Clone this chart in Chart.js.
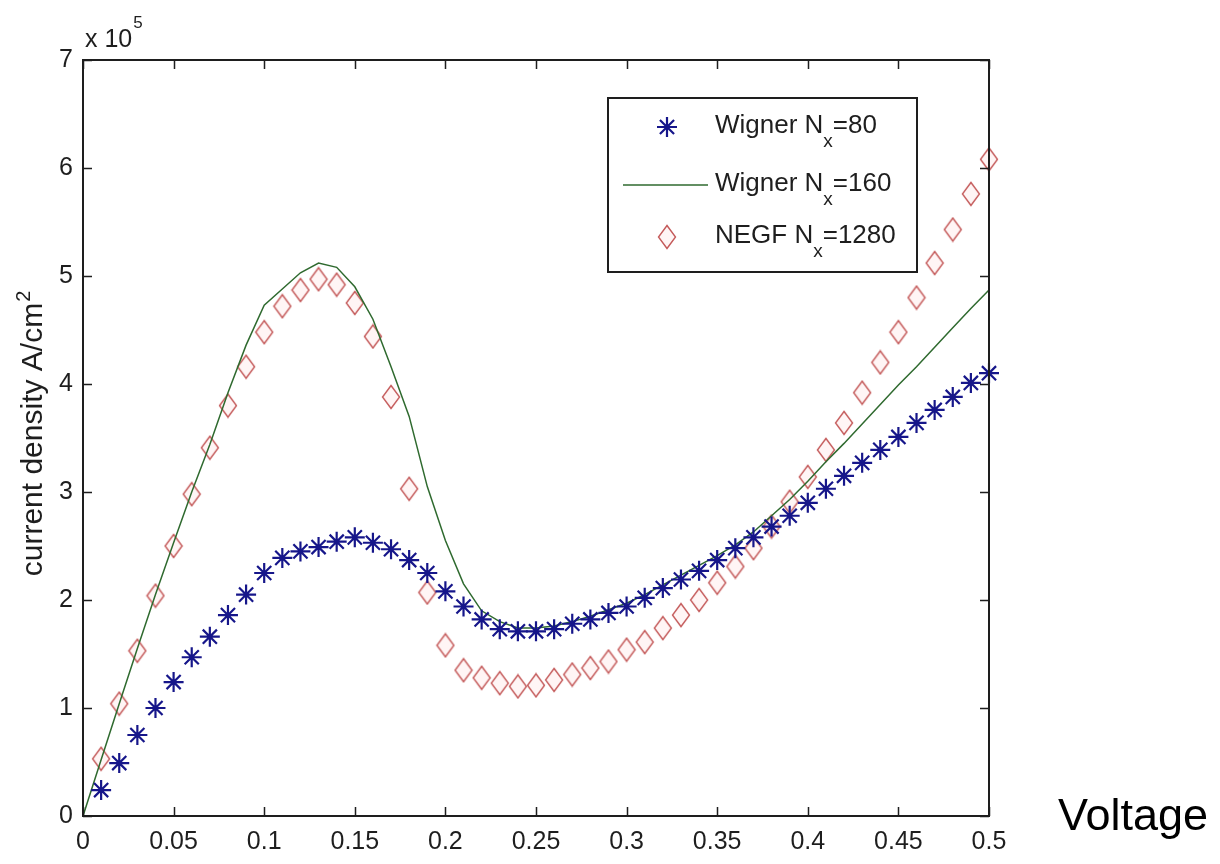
<!DOCTYPE html>
<html lang="en">
<head>
    <meta charset="UTF-8">
    <title>current density vs voltage</title>
    <script src="https://cdn.jsdelivr.net/npm/chart.js"></script>
    <style>
        body { margin: 0; background: #fff; }
        #wrap { width: 1220px; height: 864px; }
    </style>
</head>
<body>
<div id="wrap"><canvas id="ivChart" width="1220" height="864"></canvas></div>

<script>
    // values in units of 1e5 A/cm^2
    const voltage = [0.01, 0.02, 0.03, 0.04, 0.05, 0.06, 0.07, 0.08, 0.09, 0.10,
                     0.11, 0.12, 0.13, 0.14, 0.15, 0.16, 0.17, 0.18, 0.19, 0.20,
                     0.21, 0.22, 0.23, 0.24, 0.25, 0.26, 0.27, 0.28, 0.29, 0.30,
                     0.31, 0.32, 0.33, 0.34, 0.35, 0.36, 0.37, 0.38, 0.39, 0.40,
                     0.41, 0.42, 0.43, 0.44, 0.45, 0.46, 0.47, 0.48, 0.49, 0.50];
    const wigner80 = [0.24, 0.49, 0.75, 1.00, 1.24, 1.47, 1.66, 1.86, 2.05, 2.25,
                      2.39, 2.45, 2.49, 2.54, 2.58, 2.53, 2.47, 2.37, 2.25, 2.08,
                      1.94, 1.82, 1.73, 1.71, 1.71, 1.73, 1.78, 1.82, 1.88, 1.94,
                      2.02, 2.11, 2.19, 2.27, 2.37, 2.48, 2.58, 2.68, 2.78, 2.90,
                      3.03, 3.15, 3.27, 3.39, 3.51, 3.64, 3.76, 3.88, 4.01, 4.10];
    const negf1280 = [0.53, 1.04, 1.53, 2.04, 2.50, 2.98, 3.41, 3.80, 4.16, 4.48,
                      4.72, 4.87, 4.97, 4.92, 4.75, 4.44, 3.88, 3.03, 2.07, 1.58,
                      1.35, 1.28, 1.23, 1.20, 1.21, 1.26, 1.31, 1.37, 1.43, 1.54,
                      1.61, 1.74, 1.86, 2.00, 2.16, 2.31, 2.48, 2.68, 2.91, 3.14,
                      3.39, 3.64, 3.92, 4.20, 4.48, 4.80, 5.12, 5.43, 5.76, 6.08];
    const voltageFine = [0, 0.01, 0.02, 0.03, 0.04, 0.05, 0.06, 0.07, 0.08, 0.09, 0.10,
                         0.11, 0.12, 0.13, 0.14, 0.15, 0.16, 0.17, 0.18, 0.19, 0.20,
                         0.21, 0.22, 0.23, 0.24, 0.25, 0.26, 0.27, 0.28, 0.29, 0.30,
                         0.31, 0.32, 0.33, 0.34, 0.35, 0.36, 0.37, 0.38, 0.39, 0.40,
                         0.41, 0.42, 0.43, 0.44, 0.45, 0.46, 0.47, 0.48, 0.49, 0.50];
    const wigner160 = [0, 0.52, 1.04, 1.55, 2.05, 2.53, 3.00, 3.44, 3.92, 4.36, 4.73,
                       4.88, 5.03, 5.12, 5.08, 4.90, 4.60, 4.16, 3.70, 3.05, 2.55,
                       2.15, 1.90, 1.80, 1.74, 1.74, 1.76, 1.80, 1.85, 1.91, 1.97,
                       2.05, 2.14, 2.23, 2.32, 2.41, 2.51, 2.63, 2.78, 2.93, 3.10,
                       3.28, 3.45, 3.63, 3.81, 3.99, 4.16, 4.34, 4.52, 4.70, 4.87];

    const seriesLabels = ['Wigner N_x=80', 'Wigner N_x=160', 'NEGF N_x=1280'];
    const xTickValues = [0, 0.05, 0.1, 0.15, 0.2, 0.25, 0.3, 0.35, 0.4, 0.45, 0.5];
    const xTickLabels = ['0', '0.05', '0.1', '0.15', '0.2', '0.25', '0.3', '0.35', '0.4', '0.45', '0.5'];
    const yTickValues = [0, 1, 2, 3, 4, 5, 6, 7];
    const yTickLabels = ['0', '1', '2', '3', '4', '5', '6', '7'];

    const FONT = 'Liberation Sans, Arial, sans-serif';
    const INK = '#1e1e1e';
    const STAR_COLOR = '#16168a';
    const LINE_COLOR = '#2f6a2f';
    const DIAMOND_COLOR = '#c45a5a';

    // tall open diamond like the matlab marker
    function makeDiamond() {
        const c = document.createElement('canvas');
        c.width = 20; c.height = 26;
        const g = c.getContext('2d');
        g.strokeStyle = DIAMOND_COLOR;
        g.lineWidth = 1.4;
        g.fillStyle = 'rgba(255,225,225,0.35)';
        g.beginPath();
        g.moveTo(10, 1.5); g.lineTo(18.5, 13); g.lineTo(10, 24.5); g.lineTo(1.5, 13);
        g.closePath();
        g.fill();
        g.stroke();
        return c;
    }
    const diamond = makeDiamond();

    const toXY = (xs, ys) => xs.map((x, i) => ({ x: x, y: ys[i] }));

    // box, inward ticks, legend and extra texts
    const decorations = {
        id: 'decorations',
        beforeDraw(chart) {
            const ctx = chart.ctx;
            ctx.save();
            ctx.fillStyle = '#fff';
            ctx.fillRect(0, 0, chart.width, chart.height);
            ctx.restore();
        },
        afterDatasetsDraw(chart) {
            const ctx = chart.ctx;
            const a = chart.chartArea;
            const xs = chart.scales.x, ys = chart.scales.y;
            ctx.save();
            ctx.strokeStyle = INK;
            ctx.lineWidth = 2;
            ctx.strokeRect(a.left, a.top, a.right - a.left, a.bottom - a.top);
            ctx.lineWidth = 1.5;
            const tl = 9;
            ctx.beginPath();
            xTickValues.forEach(v => {
                const p = Math.round(xs.getPixelForValue(v)) + 0.5;
                ctx.moveTo(p, a.bottom); ctx.lineTo(p, a.bottom - tl);
                ctx.moveTo(p, a.top); ctx.lineTo(p, a.top + tl);
            });
            yTickValues.forEach(v => {
                const p = Math.round(ys.getPixelForValue(v)) + 0.5;
                ctx.moveTo(a.left, p); ctx.lineTo(a.left + tl, p);
                ctx.moveTo(a.right, p); ctx.lineTo(a.right - tl, p);
            });
            ctx.stroke();

            // legend
            const box = { l: 608, t: 98, r: 917, b: 272 };
            ctx.fillStyle = '#fff';
            ctx.fillRect(box.l, box.t, box.r - box.l, box.b - box.t);
            ctx.lineWidth = 2;
            ctx.strokeRect(box.l, box.t, box.r - box.l, box.b - box.t);
            const baselines = [133, 191, 243];
            seriesLabels.forEach((lab, i) => {
                const base = baselines[i];
                const my = base - 6;
                if (i === 0) {
                    ctx.strokeStyle = STAR_COLOR;
                    ctx.fillStyle = STAR_COLOR;
                    ctx.lineWidth = 2.2;
                    Chart.helpers.drawPoint(ctx, { pointStyle: 'star', radius: 10, borderWidth: 2.2 }, 667, my);
                } else if (i === 1) {
                    ctx.strokeStyle = LINE_COLOR;
                    ctx.lineWidth = 1.5;
                    ctx.beginPath();
                    ctx.moveTo(623, my); ctx.lineTo(708, my);
                    ctx.stroke();
                } else {
                    ctx.drawImage(diamond, 667 - 10, my - 13);
                }
                const parts = lab.split('_x');
                ctx.fillStyle = INK;
                ctx.textBaseline = 'alphabetic';
                ctx.textAlign = 'left';
                ctx.font = '26px ' + FONT;
                let x = 715;
                ctx.fillText(parts[0], x, base);
                x += ctx.measureText(parts[0]).width;
                ctx.font = '19px ' + FONT;
                ctx.fillText('x', x, base + 14);
                x += ctx.measureText('x').width;
                ctx.font = '26px ' + FONT;
                ctx.fillText(parts[1], x, base);
            });

            // exponent above y axis
            ctx.fillStyle = INK;
            ctx.font = '25px ' + FONT;
            ctx.fillText('x 10', 85, 47);
            const w10 = ctx.measureText('x 10').width;
            ctx.font = '17px ' + FONT;
            ctx.fillText('5', 85 + w10 + 1, 28);

            // y axis title with superscript
            ctx.save();
            ctx.translate(42, 434);
            ctx.rotate(-Math.PI / 2);
            ctx.textBaseline = 'alphabetic';
            ctx.font = '30px ' + FONT;
            const main = 'current density A/cm';
            const wm = ctx.measureText(main).width;
            ctx.font = '20px ' + FONT;
            const ws = ctx.measureText('2').width;
            const start = -(wm + ws) / 2;
            ctx.font = '30px ' + FONT;
            ctx.fillText(main, start, 0);
            ctx.font = '20px ' + FONT;
            ctx.fillText('2', start + wm + 1, -12);
            ctx.restore();

            // big side label
            ctx.fillStyle = '#000';
            ctx.font = '45px ' + FONT;
            ctx.textBaseline = 'alphabetic';
            ctx.fillText('Voltage', 1058, 830);
            ctx.restore();
        }
    };

    new Chart(document.getElementById('ivChart'), {
        type: 'scatter',
        data: {
            datasets: [
                {
                    label: seriesLabels[0],
                    data: toXY(voltage, wigner80),
                    pointStyle: 'star',
                    pointRadius: 10,
                    pointBorderWidth: 2.2,
                    borderColor: STAR_COLOR,
                    backgroundColor: STAR_COLOR,
                    showLine: false,
                    clip: false,
                    order: 1
                },
                {
                    label: seriesLabels[1],
                    data: toXY(voltageFine, wigner160),
                    showLine: true,
                    borderColor: LINE_COLOR,
                    borderWidth: 1.5,
                    pointRadius: 0,
                    tension: 0,
                    clip: false,
                    order: 2
                },
                {
                    label: seriesLabels[2],
                    data: toXY(voltage, negf1280),
                    pointStyle: diamond,
                    pointRadius: 10,
                    showLine: false,
                    clip: false,
                    order: 3
                }
            ]
        },
        options: {
            responsive: false,
            animation: false,
            layout: { padding: { left: 0, top: 60, right: 231, bottom: 0 } },
            plugins: {
                legend: { display: false },
                tooltip: { enabled: false }
            },
            scales: {
                x: {
                    type: 'linear',
                    min: 0, max: 0.5,
                    afterBuildTicks: s => { s.ticks = xTickValues.map(v => ({ value: v })); },
                    afterFit: s => { s.height = 48; },
                    grid: { display: false, drawTicks: false },
                    border: { display: false },
                    ticks: {
                        padding: 11,
                        color: INK,
                        font: { family: FONT, size: 25 },
                        maxRotation: 0,
                        autoSkip: false,
                        callback: (v, i) => xTickLabels[i]
                    }
                },
                y: {
                    type: 'linear',
                    min: 0, max: 7,
                    afterBuildTicks: s => { s.ticks = yTickValues.map(v => ({ value: v })); },
                    afterFit: s => { s.width = 83; },
                    grid: { display: false, drawTicks: false },
                    border: { display: false },
                    ticks: {
                        padding: 10,
                        color: INK,
                        font: { family: FONT, size: 25 },
                        autoSkip: false,
                        callback: (v, i) => yTickLabels[i]
                    }
                }
            }
        },
        plugins: [decorations]
    });
</script>
</body>
</html>
